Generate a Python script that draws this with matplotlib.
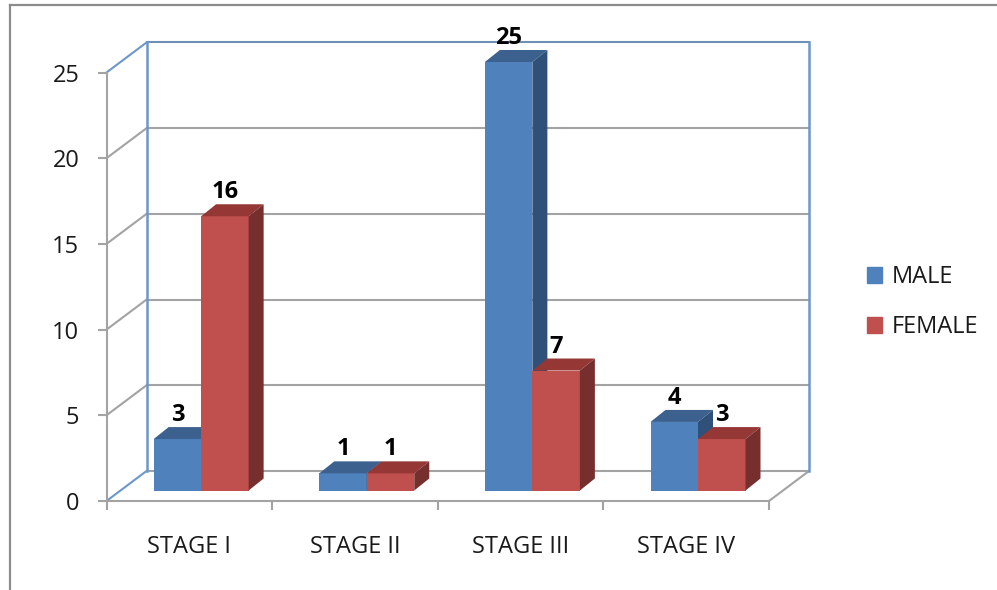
import matplotlib
matplotlib.use('Agg')
import matplotlib.pyplot as plt
from matplotlib.lines import Line2D
from matplotlib.patches import Patch
import numpy as np

# ==========================================
# data
# ==========================================
stages = ['STAGE I', 'STAGE II', 'STAGE III', 'STAGE IV']
male = [3, 1, 25, 4]
female = [16, 1, 7, 3]
y_ticks = [0, 5, 10, 15, 20, 25]

W, H = 997, 590
# front plane of the chart in pixels
LEFT, RIGHT, BOTTOM, TOP = 106.5, 769, 501, 72.5
PX_X = (RIGHT - LEFT) / len(stages)
PX_Y = (BOTTOM - TOP) / y_ticks[-1]

# 3d look: wall depth, bar offset and bar depth, in data units
WALL_DX, WALL_DY = 40 / PX_X, 30 / PX_Y
SHIFT_DX, SHIFT_DY = 14 / PX_X, 10.5 / PX_Y
BAR_DX, BAR_DY = 15 / PX_X, 12 / PX_Y
BAR_W = 47.5 / PX_X
GAP = 0.2

GRID = '#A3A3A3'
WALL = '#6C97CC'
TEXT = '#1A1A1A'
COLORS = {'male': ('#4F81BD', '#3C618F', '#2F5078'),
          'female': ('#C0504D', '#953735', '#772F2D')}

plt.rcParams['font.family'] = ['Open Sans', 'DejaVu Sans']

fig = plt.figure(figsize=(W / 100, H / 100), dpi=100)
ax = fig.add_axes([LEFT / W, 1 - BOTTOM / H, (RIGHT - LEFT) / W, (BOTTOM - TOP) / H])
ax.set_xlim(0, len(stages))
ax.set_ylim(0, y_ticks[-1])
ax.patch.set_visible(False)

for name in ['top', 'right']:
    ax.spines[name].set_visible(False)
for name in ['left', 'bottom']:
    ax.spines[name].set_color(GRID)
    ax.spines[name].set_linewidth(1.5)

ax.set_yticks(y_ticks)
ax.set_xticks(range(len(stages) + 1))
ax.set_xticklabels([])
ax.tick_params(axis='both', color=GRID, width=1.5, length=6.5)
ax.tick_params(axis='y', labelsize=17, pad=13, labelcolor=TEXT)

for i, s in enumerate(stages):
    ax.annotate(s, (i + 0.5, 0), xytext=(0, -33), textcoords='offset points', ha='center',
                va='center', fontsize=17, color=TEXT, annotation_clip=False)

# walls
n = len(stages)
for v in y_ticks:
    c = WALL if v in (0, y_ticks[-1]) else GRID
    ax.plot([0, WALL_DX], [v, v + WALL_DY], color=c, lw=1.5, clip_on=False, zorder=1)
    ax.plot([WALL_DX, n + WALL_DX], [v + WALL_DY] * 2, color='#6F8FB5' if v == y_ticks[-1] else GRID,
            lw=1.5, clip_on=False, zorder=1)
ax.plot([n, n + WALL_DX], [0, WALL_DY], color=GRID, lw=1.5, clip_on=False, zorder=1)
for x in [WALL_DX, n + WALL_DX]:
    ax.plot([x, x], [WALL_DY, y_ticks[-1] + WALL_DY], color=WALL, lw=1.8, clip_on=False, zorder=1.5)


def bar3d(x, value, colors, z):
    front, top, side = colors
    y0 = SHIFT_DY
    ax.bar(x, value, BAR_W, bottom=y0, align='edge', color=front, zorder=z, clip_on=False)
    x1 = x + BAR_W
    y1 = y0 + value
    ax.fill([x, x1, x1 + BAR_DX, x + BAR_DX], [y1, y1, y1 + BAR_DY, y1 + BAR_DY],
            color=top, lw=0, zorder=z, clip_on=False)
    ax.fill([x1, x1 + BAR_DX, x1 + BAR_DX, x1], [y0, y0 + BAR_DY, y1 + BAR_DY, y1],
            color=side, lw=0, zorder=z, clip_on=False)
    ax.text(x + BAR_W / 2, y1 + BAR_DY + 6 / PX_Y, str(value), ha='center', va='baseline',
            fontsize=17, fontweight='bold', color='black', zorder=10, clip_on=False)


positions = np.arange(len(stages)) + GAP + SHIFT_DX
for i, x in enumerate(positions):
    bar3d(x, male[i], COLORS['male'], 3 + i)
    bar3d(x + BAR_W, female[i], COLORS['female'], 3.5 + i)

handles = [Patch(color=COLORS['male'][0], label='MALE'),
           Patch(color=COLORS['female'][0], label='FEMALE')]
fig.legend(handles=handles, loc='center left', bbox_to_anchor=(846 / W, 1 - 302 / H), frameon=False,
           fontsize=17, handlelength=0.64, handleheight=0.68, handletextpad=0.38, labelspacing=1.1,
           labelcolor=TEXT)

# outer picture frame
fig.add_artist(Line2D([10 / W, 10 / W], [0, 1 - 5 / H], color='#8C8C8C', lw=1.6))
fig.add_artist(Line2D([10 / W, 1], [1 - 5 / H, 1 - 5 / H], color='#8C8C8C', lw=1.6))

fig.savefig('out.png', dpi=100)
